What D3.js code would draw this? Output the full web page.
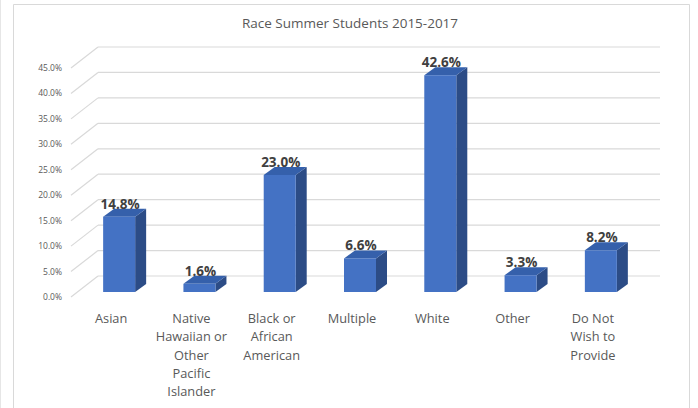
<!DOCTYPE html>
<html>
<head>
<meta charset="utf-8">
<script src="https://cdn.jsdelivr.net/npm/d3@7/dist/d3.min.js"></script>
<style>
  html, body { margin: 0; padding: 0; background: #fff; }
  svg { display: block; font-family: "Open Sans", "Noto Sans", sans-serif; }
</style>
</head>
<body>
<svg id="chart" width="698" height="408"></svg>
<script>
// Race distribution of summer students, 2015-2017 (percent)
const categories = [
  ["Asian"],
  ["Native", "Hawaiian or", "Other", "Pacific", "Islander"],
  ["Black or", "African", "American"],
  ["Multiple"],
  ["White"],
  ["Other"],
  ["Do Not", "Wish to", "Provide"]
];
const values = [14.8, 1.6, 23.0, 6.6, 42.6, 3.3, 8.2];
const yTicks = [0, 5, 10, 15, 20, 25, 30, 35, 40, 45];
const title = "Race Summer Students 2015-2017";

const svg = d3.select("#chart");

// Chart area frame
svg.append("line").attr("x1", 0.5).attr("x2", 0.5).attr("y1", 0).attr("y2", 408)
  .attr("stroke", "#e6e6e6");
svg.append("path")
  .attr("d", "M13.5,408 V4.5 H689.5 V408")
  .attr("fill", "none").attr("stroke", "#d9d9d9");

svg.append("text")
  .attr("x", 350).attr("y", 28)
  .attr("text-anchor", "middle")
  .attr("font-size", 13.5)
  .attr("fill", "#595959")
  .text(title);

// Oblique 3-D projection: front floor plane, depth offset to the back wall
const depth = { dx: 27, dy: -21 };
const barOffset = { dx: 7, dy: -5 };   // bar front face position inside the depth
const barDepth = { dx: 11, dy: -8 };   // visible bar thickness

const y = d3.scaleLinear().domain([0, 45]).range([297, 68]);
const x = d3.scaleBand()
  .domain(d3.range(categories.length))
  .range([72, 634])
  .paddingInner(0).paddingOuter(0);

const frontLeft = 72 - 1;
const backRight = 660;

// Back wall gridlines and side-wall diagonals
const grid = svg.append("g").attr("stroke", "#d9d9d9").attr("stroke-width", 1.2);
yTicks.forEach(t => {
  const yy = y(t);
  grid.append("line")
    .attr("x1", frontLeft + depth.dx).attr("x2", backRight)
    .attr("y1", yy + depth.dy).attr("y2", yy + depth.dy);
  grid.append("line")
    .attr("x1", frontLeft).attr("y1", yy)
    .attr("x2", frontLeft + depth.dx).attr("y2", yy + depth.dy);
});

// Y-axis tick labels
const fmt = d => d.toFixed(1) + "%";
svg.append("g").selectAll("text").data(yTicks).join("text")
  .attr("x", 62).attr("y", d => y(d))
  .attr("dy", "0.35em")
  .attr("text-anchor", "end")
  .attr("font-size", 8.5)
  .attr("fill", "#595959")
  .text(fmt);

// Bars
const barW = 32;
const bars = svg.append("g").selectAll("g").data(values).join("g");

bars.each(function(v, i) {
  const g = d3.select(this);
  const cx = x(i) + x.bandwidth() / 2 + barOffset.dx;
  const x0 = cx - barW / 2, x1 = cx + barW / 2;
  const yb = y(0) + barOffset.dy, yt = y(v) + barOffset.dy;
  const { dx, dy } = barDepth;
  // side face
  g.append("path")
    .attr("d", `M${x1},${yb} L${x1 + dx},${yb + dy} L${x1 + dx},${yt + dy} L${x1},${yt} Z`)
    .attr("fill", "#2c4c86");
  // top face
  g.append("path")
    .attr("d", `M${x0},${yt} L${x1},${yt} L${x1 + dx},${yt + dy} L${x0 + dx},${yt + dy} Z`)
    .attr("fill", "#3560ab");
  // front face
  g.append("rect")
    .attr("x", x0).attr("y", yt)
    .attr("width", barW).attr("height", yb - yt)
    .attr("fill", "#4472c4");
  // value label
  g.append("text")
    .attr("x", cx + 1).attr("y", yt + dy)
    .attr("text-anchor", "middle")
    .attr("font-size", 13.5)
    .attr("font-weight", "bold")
    .attr("fill", "#404040")
    .text(fmt(v));
});

// Category labels along the front edge
const labels = svg.append("g").selectAll("text").data(categories).join("text")
  .attr("x", (d, i) => x(i) + x.bandwidth() / 2 - 1)
  .attr("y", 323)
  .attr("text-anchor", "middle")
  .attr("font-size", 12.8)
  .attr("fill", "#595959");
labels.each(function(lines) {
  const t = d3.select(this);
  const cx = t.attr("x");
  lines.forEach((ln, k) => {
    t.append("tspan").attr("x", cx).attr("dy", k === 0 ? 0 : 18.3).text(ln);
  });
});
</script>
</body>
</html>
